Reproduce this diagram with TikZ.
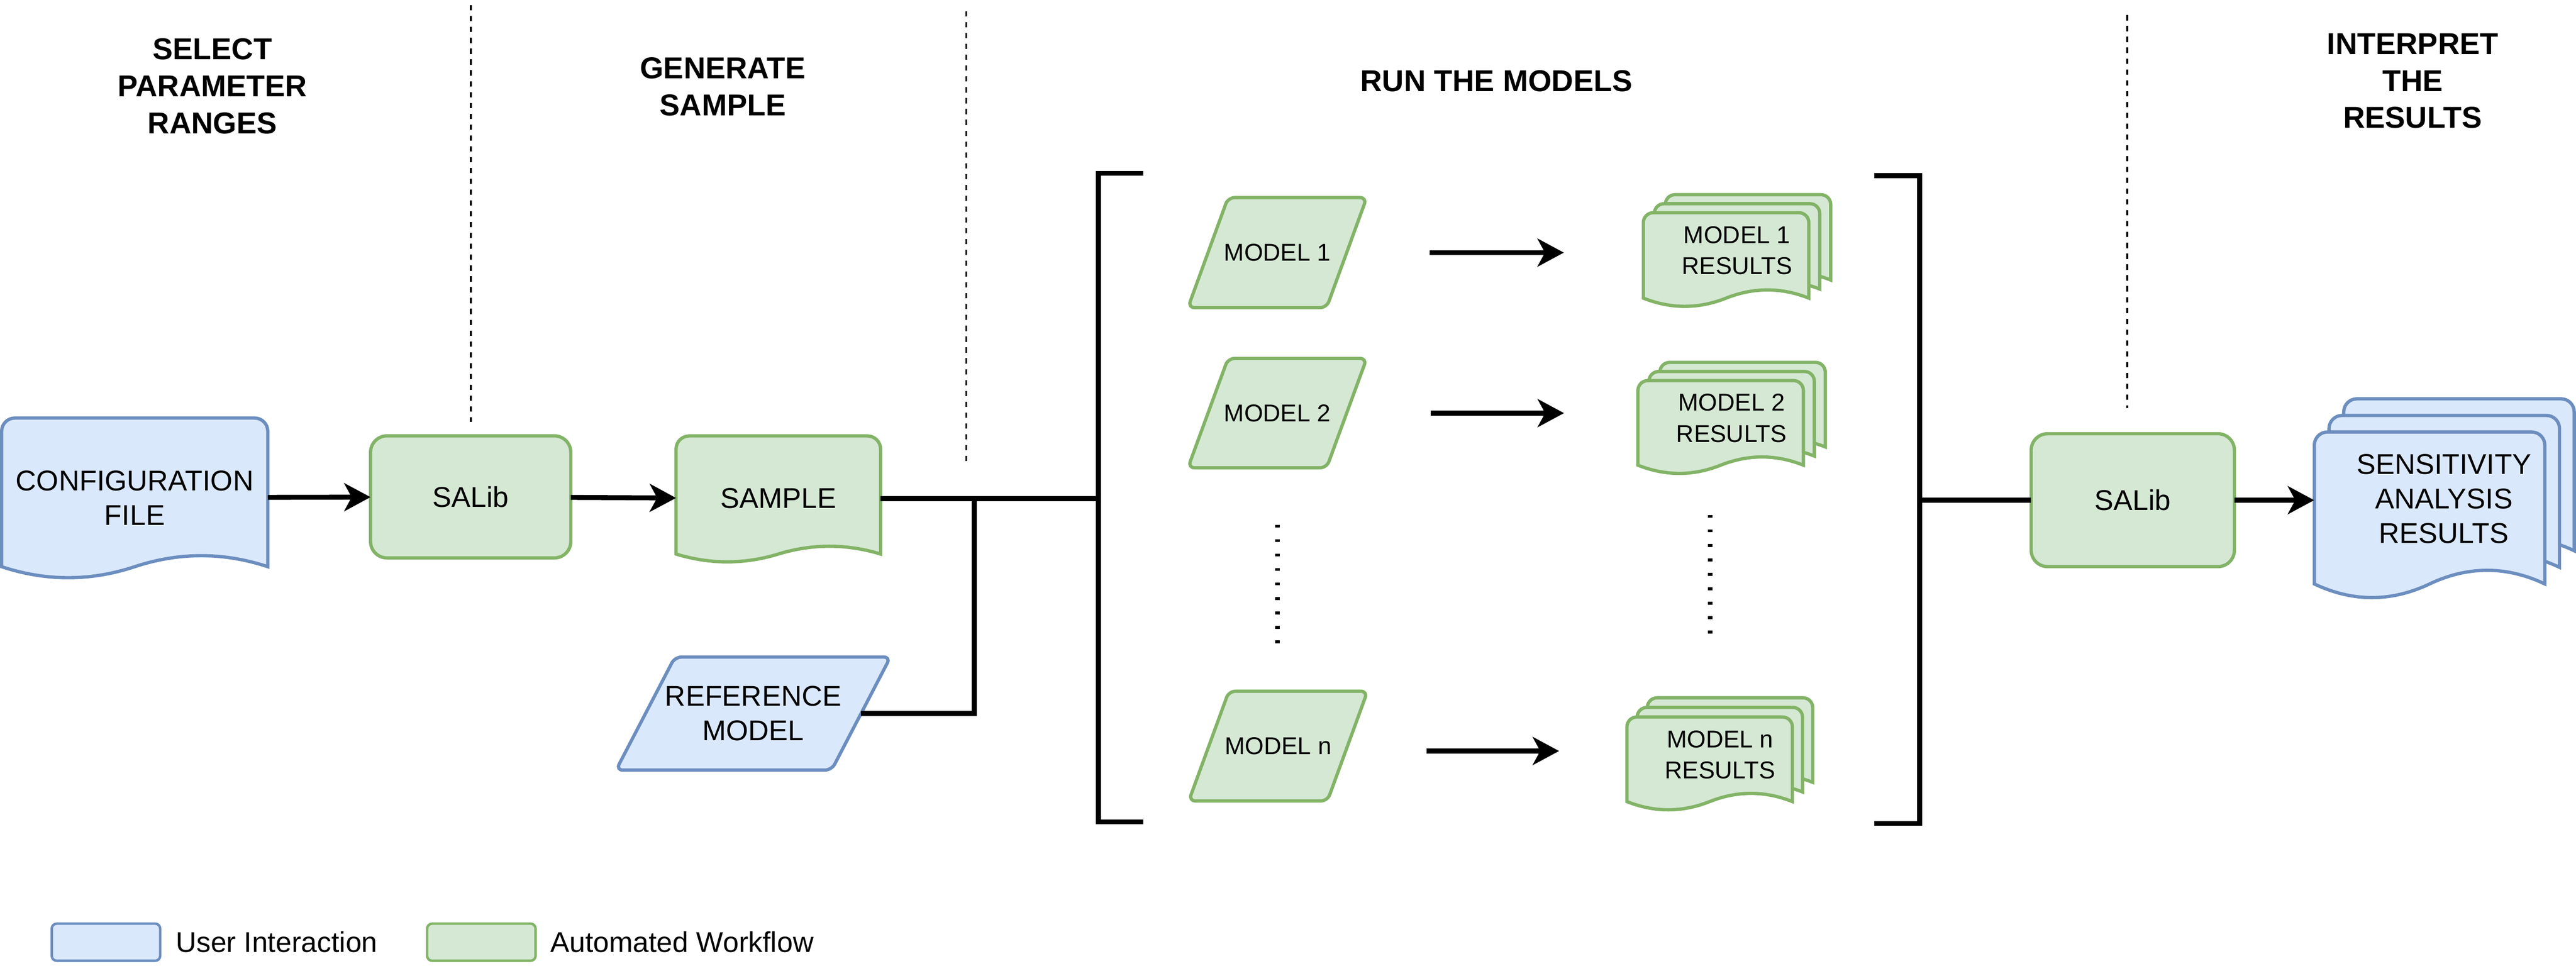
\documentclass[tikz,border=0pt]{standalone}
\usepackage{fontspec}
\setmainfont{Liberation Sans}
\usetikzlibrary{arrows.meta}
\usetikzlibrary{positioning}

\definecolor{uifill}{HTML}{DAE8FC}
\definecolor{uiline}{HTML}{6C8EBF}
\definecolor{awfill}{HTML}{D5E8D4}
\definecolor{awline}{HTML}{82B366}

% document outline: x, y, width, edge depth, wave, corner radius, style
\newcommand{\docshape}[7]{%
  \pgfmathsetmacro\dxa{#1+5*#3/6}\pgfmathsetmacro\dxb{#1+2*#3/3}%
  \pgfmathsetmacro\dxc{#1+#3/2}\pgfmathsetmacro\dxd{#1+#3/3}%
  \pgfmathsetmacro\dxe{#1+#3/6}\pgfmathsetmacro\dxr{#1+#3}%
  \pgfmathsetmacro\dyu{#2+#4-4*#5/3}\pgfmathsetmacro\dyl{#2+#4+4*#5/3}%
  \pgfmathsetmacro\dye{#2+#4}%
  \draw[#7] (#1,\dye) [rounded corners=#6pt] -- (#1,#2) -- (\dxr,#2) [sharp corners] -- (\dxr,\dye)
    .. controls (\dxa,\dyu) and (\dxb,\dyu) .. (\dxc,\dye)
    .. controls (\dxd,\dyl) and (\dxe,\dyl) .. (#1,\dye) -- cycle;}

% three stacked documents: x, y, width, edge depth, wave, step x, step y, style, radius
\newcommand{\multidoc}[9]{%
  \pgfmathsetmacro\mxa{#1+2*#6}\pgfmathsetmacro\mya{#2-2*#7}%
  \pgfmathsetmacro\mxb{#1+#6}\pgfmathsetmacro\myb{#2-#7}%
  \docshape{\mxa}{\mya}{#3}{#4}{#5}{#9}{#8}%
  \docshape{\mxb}{\myb}{#3}{#4}{#5}{#9}{#8}%
  \docshape{#1}{#2}{#3}{#4}{#5}{#9}{#8}}

% parallelogram: centre x, centre y, base width, height, slant, style
\newcommand{\paragram}[6]{%
  \pgfmathsetmacro\pxa{#1-#3/2-#5/2}\pgfmathsetmacro\pxb{#1+#3/2-#5/2}%
  \pgfmathsetmacro\pxc{#1+#3/2+#5/2}\pgfmathsetmacro\pxd{#1-#3/2+#5/2}%
  \pgfmathsetmacro\pyb{#2+#4/2}\pgfmathsetmacro\pyt{#2-#4/2}%
  \draw[#6, rounded corners=4pt] (\pxa,\pyb) -- (\pxb,\pyb) -- (\pxc,\pyt) -- (\pxd,\pyt) -- cycle;}

\begin{document}
\begin{tikzpicture}[x=1pt,y=-1pt,
    box/.style={align=center, font=\fontsize{17.4}{21}\selectfont, inner sep=0pt, outer sep=0pt},
    small/.style={box, font=\fontsize{14.8}{19}\selectfont},
    title/.style={align=center, font=\fontsize{18.4}{22.5}\selectfont\bfseries},
    uidoc/.style={fill=uifill, draw=uiline, line width=2pt},
    awdoc/.style={fill=awfill, draw=awline, line width=2pt},
    salib/.style={box, awdoc, rounded corners=10pt},
    key/.style={box, line width=1.5pt, rounded corners=3pt, minimum width=66pt, minimum height=22.6pt},
    link/.style={line width=3pt},
    arr/.style={line width=3pt, -{Stealth[length=16pt,width=17pt,inset=4.5pt]}},
    sep/.style={line width=1.1pt, dash pattern=on 3.2pt off 3.4pt},
    dots/.style={line width=2.7pt, dash pattern=on 1.8pt off 7pt}]
  \useasboundingbox (0,0) rectangle (1568,591);

  % stage titles and separators
  \node[title] (t-select) at (129.3,52.5) {SELECT\\PARAMETER\\RANGES};
  \node[title] (t-generate) at (440,52.7) {GENERATE\\SAMPLE};
  \node[title] (t-run) at (910.8,49.4) {RUN THE MODELS};
  \node[title] (t-interpret) at (1468.6,49.3) {INTERPRET\\THE\\RESULTS};
  \coordinate (sep1-top) at (286.6,3.2);  \coordinate (sep1-bot) at (286.6,256.7);
  \coordinate (sep2-top) at (588.2,6.9);  \coordinate (sep2-bot) at (588.2,280.6);
  \coordinate (sep3-top) at (1294.8,9.2); \coordinate (sep3-bot) at (1294.8,248.3);
  \draw[sep] (sep1-top) -- (sep1-bot);
  \draw[sep] (sep2-top) -- (sep2-bot);
  \draw[sep] (sep3-top) -- (sep3-bot);

  % inputs and sampling
  \docshape{1}{254.5}{162}{90.5}{6.7}{8}{uidoc}
  \node[box, minimum width=162pt, minimum height=97pt] (cfg) at (82,303) {CONFIGURATION\\FILE};
  \node[salib, minimum width=121.9pt, minimum height=74.3pt] (sal1) at (286.5,302.5) {SALib};
  \docshape{411.5}{265.4}{124.5}{71.9}{4.75}{8}{awdoc}
  \node[box, minimum width=124.5pt, minimum height=76pt] (smp) at (473.75,303.5) {SAMPLE};
  \paragram{458.5}{434.4}{131.2}{68.8}{35.8}{uidoc}
  \node[box, minimum width=131.2pt, minimum height=68.8pt] (ref) at (458.5,434.4) {REFERENCE\\MODEL};

  % model runs
  \paragram{777.5}{153.8}{84.4}{67}{24.4}{awdoc}
  \node[small, minimum width=84.4pt, minimum height=67pt] (m1) at (777.5,153.8) {MODEL 1};
  \paragram{777.5}{251.5}{84.4}{66.6}{24.4}{awdoc}
  \node[small, minimum width=84.4pt, minimum height=66.6pt] (m2) at (777.5,251.5) {MODEL 2};
  \paragram{778}{454.2}{84.4}{66.8}{24.4}{awdoc}
  \node[small, minimum width=84.4pt, minimum height=66.8pt] (mn) at (778,454.2) {MODEL n};
  \multidoc{1000.3}{129.5}{100.7}{52}{5}{6.67}{5.5}{awdoc}{6}
  \node[small, minimum width=114pt, minimum height=68pt] (r1) at (1057.3,152.5) {MODEL 1\\RESULTS};
  \multidoc{997}{231.7}{100.7}{51.5}{5}{6.67}{5.55}{awdoc}{6}
  \node[small, minimum width=114pt, minimum height=68pt] (r2) at (1054,254.6) {MODEL 2\\RESULTS};
  \multidoc{990.3}{436.5}{100.7}{51.5}{5}{6.2}{5.85}{awdoc}{6}
  \node[small, minimum width=114pt, minimum height=68pt] (rn) at (1047,459.5) {MODEL n\\RESULTS};
  \coordinate (dots-m-top) at (777.6,319.4); \coordinate (dots-m-bot) at (777.6,392);
  \coordinate (dots-r-top) at (1040.9,313.5); \coordinate (dots-r-bot) at (1040.9,386);
  \draw[dots] (dots-m-top) -- (dots-m-bot);
  \draw[dots] (dots-r-top) -- (dots-r-bot);
  \coordinate (brl-top) at (668.5,105.5); \coordinate (brl-bot) at (668.5,500.3);
  \coordinate (brr-top) at (1168.5,107);  \coordinate (brr-bot) at (1168.5,501.3);
  \draw[link] (696,105.5) -- (brl-top) -- (brl-bot) -- (696,500.3);
  \draw[link] (1141,107) -- (brr-top) -- (brr-bot) -- (1141,501.3);

  % analysis
  \node[salib, minimum width=123.7pt, minimum height=80.9pt] (sal2) at (1298.2,304.5) {SALib};
  \multidoc{1408.7}{263}{140.3}{92.5}{8.3}{8.95}{10.1}{uidoc}{8}
  \node[box, minimum width=158pt, minimum height=121pt] (sa) at (1487.6,303.6) {SENSITIVITY\\ANALYSIS\\RESULTS};

  % connectors
  \coordinate (jn) at (593,303.5);
  \draw[arr] (cfg) -- (sal1);
  \draw[arr] (sal1) -- (smp);
  \draw[link] (smp.east) -- (smp.east -| brl-top);
  \draw[link] (ref.east) -| (jn);
  \draw[arr, shorten <=92.7pt, shorten >=48.4pt] (m1.center) -- (m1.center -| r1.west);
  \draw[arr, shorten <=93.5pt, shorten >=45pt] (m2.center) -- (m2.center -| r2.west);
  \draw[arr, shorten <=90.3pt, shorten >=41pt] ([yshift=-3pt]mn.center) -- ([yshift=-3pt]mn.center -| rn.west);
  \draw[link] (brr-top |- sal2.west) -- (sal2.west);
  \draw[arr] (sal2.east) -- (sal2.east -| sa.west);

  % legend
  \node[key, uidoc, line width=1.5pt] (key-ui) at (64.5,573.6) {};
  \node[box, right=9.5pt of key-ui] (key-ui-text) {User Interaction};
  \node[key, awdoc, line width=1.5pt] (key-aw) at (293,573.6) {};
  \node[box, right=9pt of key-aw] (key-aw-text) {Automated Workflow};
\end{tikzpicture}
\end{document}
